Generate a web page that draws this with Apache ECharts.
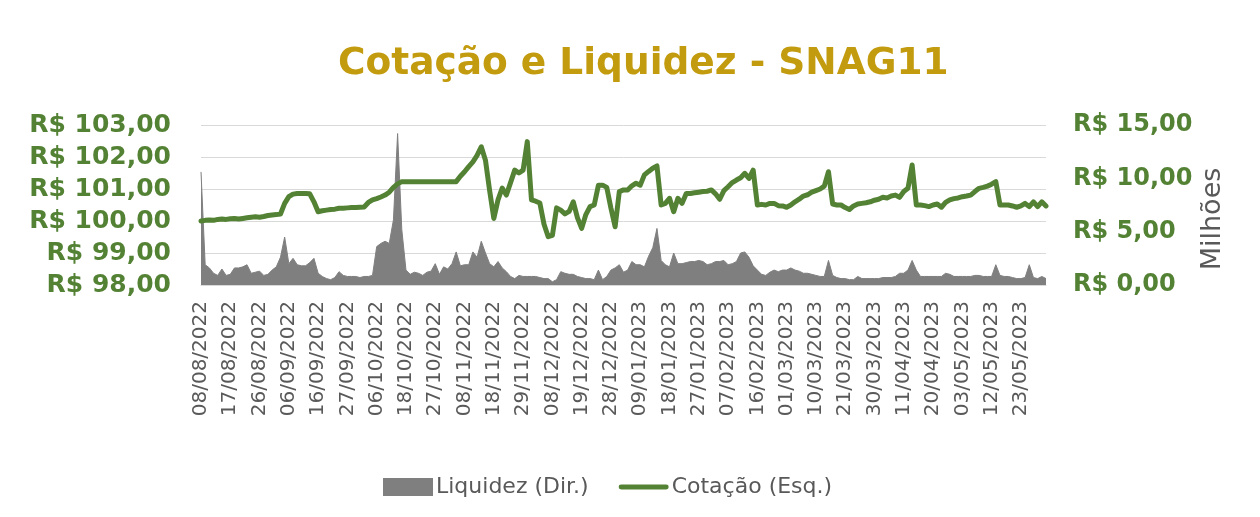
<!DOCTYPE html>
<html>
<head>
<meta charset="utf-8">
<script src="https://cdn.jsdelivr.net/npm/echarts@6/dist/echarts.min.js"></script>
<style>
  html, body { margin: 0; padding: 0; background: #fff; }
  #chart { width: 1260px; height: 517px; }
</style>
</head>
<body>
<div id="chart"></div>
<script>
// pregões (dias úteis B3) por mês
const months = [
  ['08/2022', '08 09 10 11 12 15 16 17 18 19 22 23 24 25 26 29 30 31'],
  ['09/2022', '01 02 05 06 08 09 12 13 14 15 16 19 20 21 22 23 26 27 28 29 30'],
  ['10/2022', '03 04 05 06 07 10 11 13 14 17 18 19 20 21 24 25 26 27 28 31'],
  ['11/2022', '01 03 04 07 08 09 10 11 14 16 17 18 21 22 23 24 25 28 29 30'],
  ['12/2022', '01 02 05 06 07 08 09 12 13 14 15 16 19 20 21 22 23 26 27 28 29'],
  ['01/2023', '02 03 04 05 06 09 10 11 12 13 16 17 18 19 20 23 24 25 26 27 30 31'],
  ['02/2023', '01 02 03 06 07 08 09 10 13 14 15 16 17 22 23 24 27 28'],
  ['03/2023', '01 02 03 06 07 08 09 10 13 14 15 16 17 20 21 22 23 24 27 28 29 30 31'],
  ['04/2023', '03 04 05 06 10 11 12 13 14 17 18 19 20 24 25 26 27 28'],
  ['05/2023', '02 03 04 05 08 09 10 11 12 15 16 17 18 19 22 23 24 25 26 29 30 31']
];

// Cotação (R$) - eixo esquerdo
const cotacao = [
  100.00, 100.02, 100.03, 100.02, 100.05, 100.06, 100.05, 100.07, 100.08, 100.06,
  100.08, 100.10, 100.12, 100.13, 100.12, 100.14, 100.17, 100.19, 100.20, 100.22,
  100.55, 100.76, 100.84, 100.86, 100.86, 100.86, 100.85, 100.60, 100.29, 100.32,
  100.34, 100.36, 100.37, 100.40, 100.40, 100.41, 100.42, 100.42, 100.43, 100.44,
  100.58, 100.66, 100.70, 100.75, 100.81, 100.90, 101.05, 101.16, 101.23, 101.23,
  101.23, 101.23, 101.23, 101.23, 101.23, 101.23, 101.23, 101.23, 101.23, 101.23,
  101.23, 101.23, 101.40, 101.54, 101.70, 101.85, 102.05, 102.32, 101.90, 100.95,
  100.08, 100.66, 101.03, 100.81, 101.20, 101.59, 101.50, 101.59, 102.48, 100.66,
  100.62, 100.56, 99.90, 99.51, 99.55, 100.41, 100.34, 100.22, 100.30, 100.60,
  100.10, 99.77, 100.20, 100.45, 100.50, 101.12, 101.12, 101.05, 100.40, 99.82,
  100.92, 100.97, 100.97, 101.10, 101.18, 101.12, 101.44, 101.55, 101.65, 101.72,
  100.50, 100.55, 100.71, 100.29, 100.71, 100.55, 100.86, 100.86, 100.88, 100.90,
  100.92, 100.93, 100.97, 100.85, 100.68, 100.95, 101.07, 101.20, 101.28, 101.35,
  101.49, 101.33, 101.59, 100.50, 100.52, 100.50, 100.55, 100.55, 100.48, 100.47,
  100.43, 100.50, 100.60, 100.68, 100.78, 100.82, 100.90, 100.95, 101.00, 101.09,
  101.54, 100.53, 100.50, 100.50, 100.42, 100.36, 100.47, 100.53, 100.55, 100.57,
  100.60, 100.65, 100.68, 100.74, 100.72, 100.78, 100.81, 100.74, 100.92, 101.02,
  101.75, 100.50, 100.50, 100.48, 100.45, 100.50, 100.53, 100.43, 100.58, 100.66,
  100.70, 100.72, 100.76, 100.78, 100.81, 100.92, 101.02, 101.05, 101.09, 101.15,
  101.23, 100.50, 100.50, 100.50, 100.47, 100.43, 100.47, 100.55, 100.45, 100.60,
  100.45, 100.60, 100.47
];

// Liquidez (R$ milhões) - eixo direito
const liquidez = [
  10.6, 1.9, 1.6, 1.1, 0.9, 1.5, 0.9, 1.0, 1.6, 1.6,
  1.7, 1.9, 1.1, 1.2, 1.3, 0.9, 1.0, 1.4, 1.7, 2.6,
  4.5, 2.0, 2.5, 1.9, 1.8, 1.8, 2.1, 2.5, 1.1, 0.8,
  0.6, 0.5, 0.7, 1.25, 0.9, 0.8, 0.8, 0.8, 0.7, 0.8,
  0.8, 0.9, 3.6, 3.9, 4.1, 3.9, 6.1, 14.2, 5.2, 1.4,
  1.0, 1.2, 1.1, 0.9, 1.2, 1.3, 2.0, 1.0, 1.7, 1.5,
  2.0, 3.1, 1.8, 1.9, 1.9, 3.1, 2.6, 4.1, 3.0, 2.0,
  1.7, 2.2, 1.6, 1.25, 0.8, 0.6, 0.9, 0.8, 0.8, 0.8,
  0.8, 0.7, 0.6, 0.6, 0.3, 0.5, 1.25, 1.1, 1.0, 1.0,
  0.8, 0.7, 0.6, 0.6, 0.5, 1.4, 0.5, 0.8, 1.4, 1.6,
  1.9, 1.2, 1.4, 2.2, 1.9, 1.9, 1.7, 2.7, 3.5, 5.3,
  2.3, 1.9, 1.7, 3.0, 2.0, 2.0, 2.1, 2.2, 2.2, 2.3,
  2.2, 1.9, 2.0, 2.2, 2.2, 2.3, 1.9, 2.0, 2.2, 3.0,
  3.1, 2.6, 1.8, 1.4, 1.0, 0.9, 1.2, 1.4, 1.25, 1.4,
  1.4, 1.6, 1.4, 1.3, 1.1, 1.1, 1.0, 0.9, 0.8, 0.8,
  2.3, 0.9, 0.7, 0.6, 0.6, 0.5, 0.5, 0.8, 0.6, 0.6,
  0.6, 0.6, 0.6, 0.7, 0.7, 0.7, 0.8, 1.1, 1.1, 1.4,
  2.3, 1.4, 0.8, 0.8, 0.8, 0.8, 0.8, 0.8, 1.1, 1.0,
  0.8, 0.8, 0.8, 0.8, 0.8, 0.9, 0.9, 0.8, 0.8, 0.8,
  1.9, 0.9, 0.8, 0.8, 0.7, 0.6, 0.6, 0.7, 1.9, 0.7,
  0.6, 0.8, 0.6
];

const dates = [];
months.forEach(([mmyy, days]) => {
  days.split(' ').forEach(d => dates.push(d + '/' + mmyy));
});

const brl = v => 'R$ ' + v.toFixed(2).replace('.', ',');
const FONT = 'DejaVu Sans';
const GREEN = '#548235';
const GRAY_TEXT = '#595959';

const chart = echarts.init(document.getElementById('chart'));
chart.setOption({
  animation: false,
  textStyle: { fontFamily: FONT },
  title: {
    text: 'Cotação e Liquidez - SNAG11',
    left: 333,
    top: 40,
    textStyle: { color: '#C39B0E', fontSize: 37.5, fontWeight: 'bold', fontFamily: FONT }
  },
  legend: {
    left: 378,
    top: 471,
    itemWidth: 50,
    itemHeight: 18,
    itemGap: 30,
    textStyle: { color: GRAY_TEXT, fontSize: 22, fontFamily: FONT, padding: [0, 0, 0, -2] },
    data: [
      { name: 'Liquidez (Dir.)', icon: 'rect' },
      { name: 'Cotação (Esq.)', icon: 'path://M2,0L48,0A2.5,2.5,0,0,1,48,5L2,5A2.5,2.5,0,0,1,2,0Z' }
    ]
  },
  grid: { left: 201, right: 214, top: 125, bottom: 232 },
  xAxis: {
    type: 'category',
    boundaryGap: false,
    data: dates,
    axisLine: { lineStyle: { color: '#D9D9D9' } },
    axisTick: { show: false },
    axisLabel: {
      interval: 6,
      rotate: 90,
      margin: 16,
      color: GRAY_TEXT,
      fontSize: 20,
      fontFamily: FONT
    }
  },
  yAxis: [
    {
      type: 'value',
      position: 'left',
      min: 98,
      max: 103,
      interval: 1,
      axisLine: { show: false },
      axisTick: { show: false },
      splitLine: { lineStyle: { color: '#D9D9D9', width: 1 } },
      axisLabel: {
        margin: 30,
        color: GREEN,
        fontSize: 25,
        fontWeight: 'bold',
        fontFamily: FONT,
        formatter: brl
      }
    },
    {
      type: 'value',
      position: 'right',
      min: 0,
      max: 15,
      interval: 5,
      axisLine: { show: false },
      axisTick: { show: false },
      splitLine: { show: false },
      axisLabel: {
        margin: 27,
        color: GREEN,
        fontSize: 24,
        fontWeight: 'bold',
        fontFamily: FONT,
        formatter: brl
      }
    }
  ],
  graphic: [{
    type: 'text',
    x: 1213,
    y: 219,
    rotation: Math.PI / 2,
    style: {
      text: 'Milhões',
      fill: GRAY_TEXT,
      fontSize: 27,
      fontFamily: FONT,
      align: 'center',
      verticalAlign: 'middle'
    }
  }],
  series: [
    {
      name: 'Liquidez (Dir.)',
      type: 'line',
      yAxisIndex: 1,
      showSymbol: false,
      symbol: 'none',
      itemStyle: { color: '#7F7F7F' },
      lineStyle: { color: '#7F7F7F', width: 1 },
      areaStyle: { color: '#7F7F7F', opacity: 1 },
      data: liquidez
    },
    {
      name: 'Cotação (Esq.)',
      type: 'line',
      yAxisIndex: 0,
      showSymbol: false,
      symbol: 'none',
      z: 3,
      itemStyle: { color: GREEN },
      lineStyle: { color: GREEN, width: 5, join: 'round', cap: 'round' },
      data: cotacao
    }
  ]
});
</script>
</body>
</html>
